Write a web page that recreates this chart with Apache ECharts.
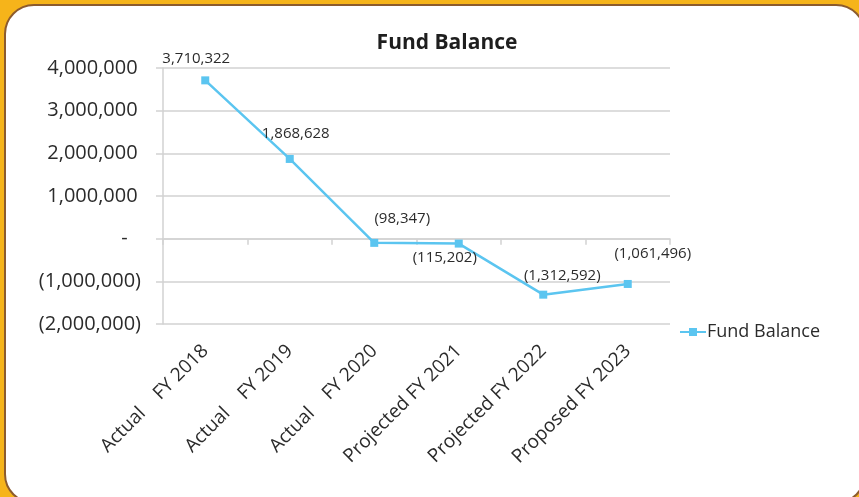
<!DOCTYPE html>
<html>
<head>
<meta charset="utf-8">
<script src="https://cdn.jsdelivr.net/npm/echarts@6/dist/echarts.min.js"></script>
<style>
html,body{margin:0;padding:0;width:859px;height:497px;overflow:hidden;background:#F6B41A;}
#frame{position:absolute;left:4px;top:4px;width:862px;height:500px;background:#fff;border:2px solid #8C5B2E;border-radius:30px;box-sizing:border-box;}
#chart{position:absolute;left:0;top:0;width:859px;height:497px;}
</style>
</head>
<body>
<div id="frame"></div>
<div id="chart"></div>
<script>
var title = 'Fund Balance';
var seriesName = 'Fund Balance';
var categories = ['Actual    FY 2018', 'Actual    FY 2019', 'Actual    FY 2020', 'Projected FY 2021', 'Projected FY 2022', 'Proposed FY 2023'];
var fundBalance = [3710322, 1868628, -98347, -115202, -1312592, -1061496];
var yMin = -2000000, yMax = 4000000, yStep = 1000000;
var labelOffsets = [[-9, -5], [6, -9], [28, -8], [-14, 31], [19, -2], [25, -14]];

function acct(v) {
  if (v === 0) return '-\u2002\u2009';
  var s = Math.abs(v).toLocaleString('en-US');
  return v < 0 ? '(' + s + ')' : s + '\u2009';
}

var chart = echarts.init(document.getElementById('chart'), null, {renderer: 'canvas'});
var font = "'Open Sans', 'Liberation Sans', sans-serif";
var txt = '#2b2b2b';
var gridColor = '#D2D2D2';

chart.setOption({
  backgroundColor: 'transparent',
  animation: false,
  textStyle: {fontFamily: font},
  title: {
    text: title, left: 442, textAlign: 'center', top: 28,
    textStyle: {fontFamily: font, fontWeight: 'bold', fontSize: 21, color: '#1e1e1e'}
  },
  legend: {
    left: 674, top: 318, itemWidth: 26, itemHeight: 10, itemGap: 4,
    textStyle: {fontFamily: font, fontSize: 18, color: txt, padding: [0, 0, 0, -4]},
    data: [seriesName]
  },
  grid: {left: 163, right: 189, top: 68, bottom: 173, containLabel: false},
  xAxis: [{
    type: 'category', data: categories, position: 'bottom',
    axisLine: {show: false, onZero: false},
    axisTick: {show: false},
    axisLabel: {rotate: 45, fontFamily: font, fontSize: 19, color: txt, margin: 24, interval: 0}
  }, {
    type: 'category', data: categories, position: 'bottom',
    axisLine: {show: true, onZero: true, lineStyle: {color: gridColor, width: 1.5}},
    axisTick: {show: true, interval: 0, length: 6, lineStyle: {color: gridColor, width: 1.5}},
    axisLabel: {show: false, interval: 0}
  }],
  yAxis: {
    type: 'value', min: yMin, max: yMax, interval: yStep,
    axisLine: {show: true, lineStyle: {color: gridColor, width: 1.5}},
    axisTick: {show: true, length: 7, lineStyle: {color: gridColor, width: 1.5}},
    splitLine: {show: true, lineStyle: {color: gridColor, width: 1.5}},
    axisLabel: {fontFamily: font, fontSize: 20, color: txt, margin: 22, formatter: acct}
  },
  series: [{
    name: seriesName, type: 'line', xAxisIndex: 0,
    data: fundBalance.map(function (v, i) {
      return {value: v, label: {offset: labelOffsets[i]}};
    }),
    symbol: 'rect', symbolSize: 8,
    lineStyle: {color: '#5BC5F0', width: 2.5},
    itemStyle: {color: '#5BC5F0'},
    label: {
      show: true, position: 'top', fontFamily: font, fontSize: 15, color: txt,
      formatter: function (p) { return acct(p.value).trim(); }
    }
  }]
});
</script>
</body>
</html>
